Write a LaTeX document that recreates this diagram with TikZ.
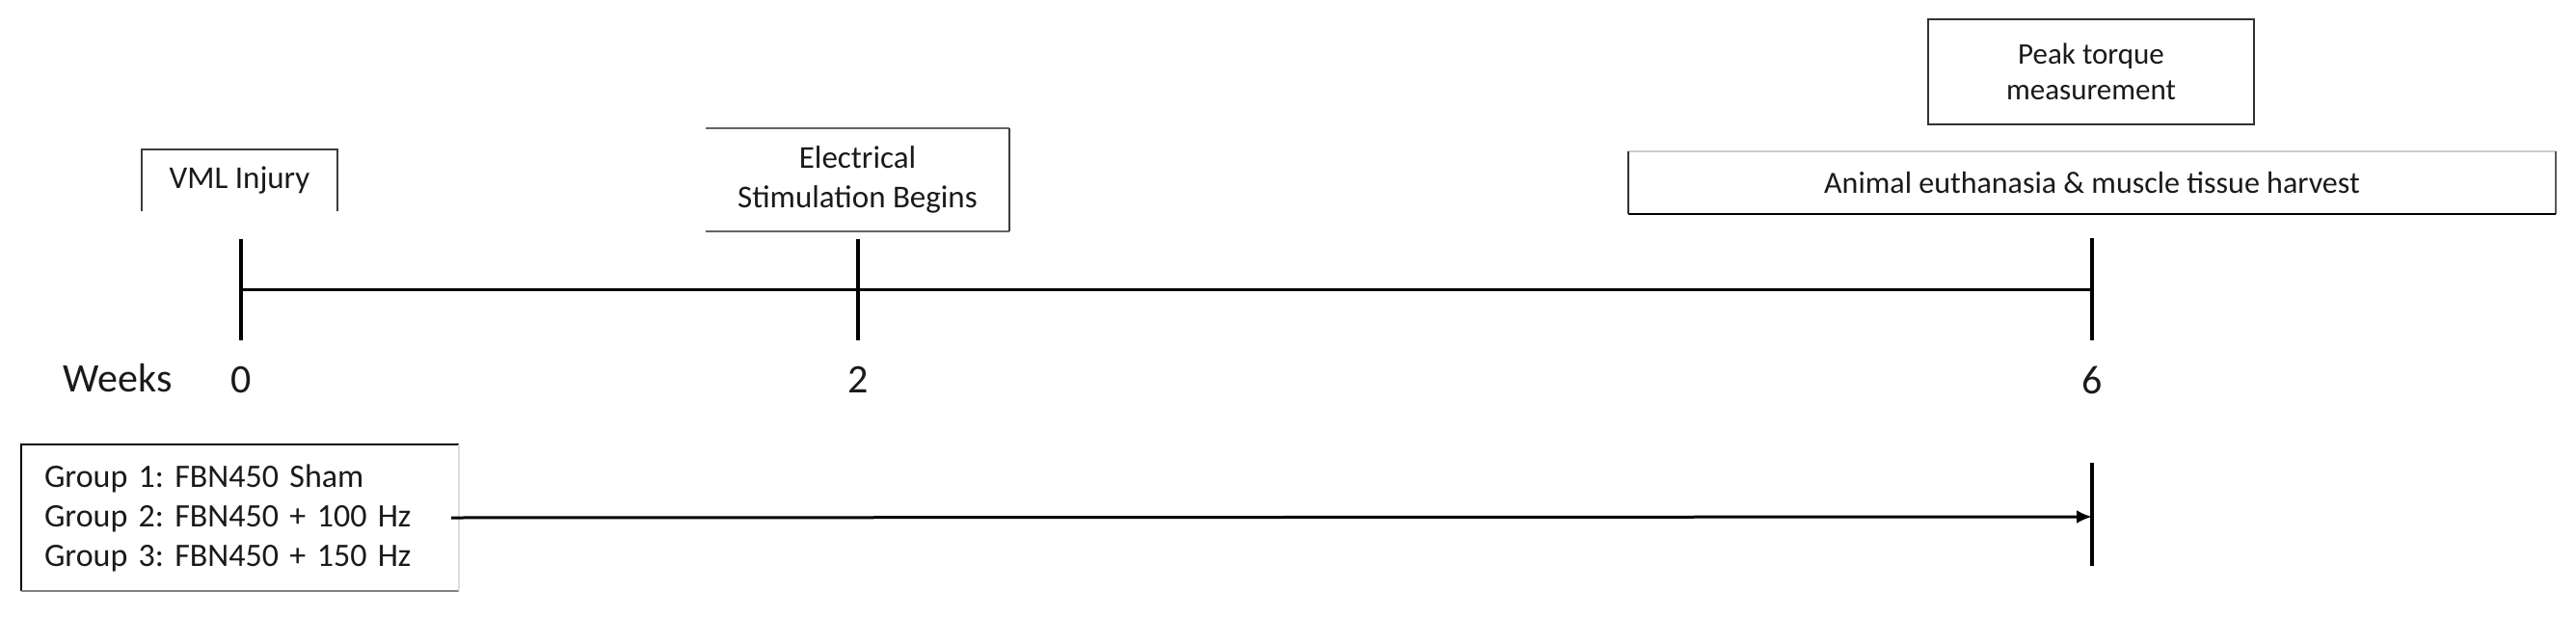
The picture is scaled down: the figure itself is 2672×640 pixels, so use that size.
\documentclass[tikz,border=0pt]{standalone}
\usepackage{fontspec}
\setmainfont{Carlito}
\usetikzlibrary{arrows.meta}
\definecolor{txt}{HTML}{1A1A1A}
\tikzset{
  x=1pt, y=-1pt,
  lbl/.style={inner sep=0pt, outer sep=0pt, text=txt, font=\fontsize{33}{41}\selectfont, align=center},
  boxn/.style={lbl, draw=none},
  axis/.style={line width=3pt, black},
  tick/.style={line width=4pt, black},
  edge/.style={line width=2.5pt},
  wk/.style={lbl, font=\fontsize{42}{48}\selectfont}
}
\begin{document}
\frenchspacing
\begin{tikzpicture}
\useasboundingbox (0,0) rectangle (2672,640);
\fill[white] (0,0) rectangle (2672,640);

% timeline coordinates
\coordinate (t0) at (250,300);
\coordinate (t2) at (890,300);
\coordinate (t6) at (2170,300);
\coordinate (t0a) at (250,248); \coordinate (t0b) at (250,353);
\coordinate (t2a) at (890,248); \coordinate (t2b) at (890,353);
\coordinate (t6a) at (2170,247); \coordinate (t6b) at (2170,353);
\coordinate (g6a) at (2170,480); \coordinate (g6b) at (2170,587);

\draw[axis] (t0) -- (t6);
\draw[tick] (t0a) -- (t0b);
\draw[tick] (t2a) -- (t2b);
\draw[tick] (t6a) -- (t6b);
\draw[tick] (g6a) -- (g6b);

% week labels
\node[wk] (weeks) at (122,392) {Weeks};
\node[wk] (w0) at (250,394) {0};
\node[wk] (w2) at (890,394) {2};
\node[wk] (w6) at (2170,394) {6};

% VML Injury box (open bottom)
\node[boxn, minimum width=203, minimum height=64] (vml) at (248.5,187) {VML Injury};
\draw[edge, draw={rgb,255:red,60;green,60;blue,60}] (vml.south west) -- (vml.north west) -- (vml.north east) -- (vml.south east);

% Electrical stimulation box (open left)
\node[boxn, minimum width=315, minimum height=107] (elec) at (889.5,186.5) {Electrical\\Stimulation Begins};
\draw[edge, draw={rgb,255:red,100;green,100;blue,100}] (elec.north west) -- (elec.north east);
\draw[edge, draw={rgb,255:red,100;green,100;blue,100}] (elec.south west) -- (elec.south east);
\draw[edge, draw={rgb,255:red,60;green,60;blue,60}] (elec.north east) -- (elec.south east);

% Peak torque box
\node[boxn, minimum width=338, minimum height=109, font=\fontsize{31}{37}\selectfont] (peak) at (2169,74.5) {Peak torque\\measurement};
\draw[edge, draw={rgb,255:red,50;green,50;blue,50}] (peak.north west) rectangle (peak.south east);

% Animal euthanasia box
\node[boxn, minimum width=962, minimum height=65, font=\fontsize{32}{38}\selectfont] (anim) at (2170,189.5) {Animal euthanasia \& muscle tissue harvest};
\draw[edge, draw={rgb,255:red,205;green,205;blue,205}] (anim.north west) -- (anim.north east);
\draw[edge, draw={rgb,255:red,90;green,90;blue,90}] (anim.north east) -- (anim.south east);
\draw[edge, draw=black] (anim.south east) -- (anim.south west);
\draw[edge, draw={rgb,255:red,50;green,50;blue,50}] (anim.south west) -- (anim.north west);

% Groups box
\node[boxn, minimum width=454, minimum height=152, text width=406, align=left, font=\fontsize{34}{41}\selectfont] (grp) at (249,537) {Group 1: FBN450 Sham\\Group 2: FBN450 + 100 Hz\\Group 3: FBN450 + 150 Hz};
\draw[edge, draw=black] (grp.south west) -- (grp.north west) -- (grp.north east);
\draw[edge, draw={rgb,255:red,130;green,130;blue,130}] (grp.south west) -- (grp.south east);
\draw[line width=1.5pt, draw={rgb,255:red,220;green,220;blue,220}] (grp.north east) -- (grp.south east);

% arrow to week 6
\coordinate (aend) at (2170,536);
\draw[line width=3pt, -{Latex[length=16pt,width=14pt]}] ([xshift=-8]grp.east) -- (aend);
\end{tikzpicture}
\end{document}
